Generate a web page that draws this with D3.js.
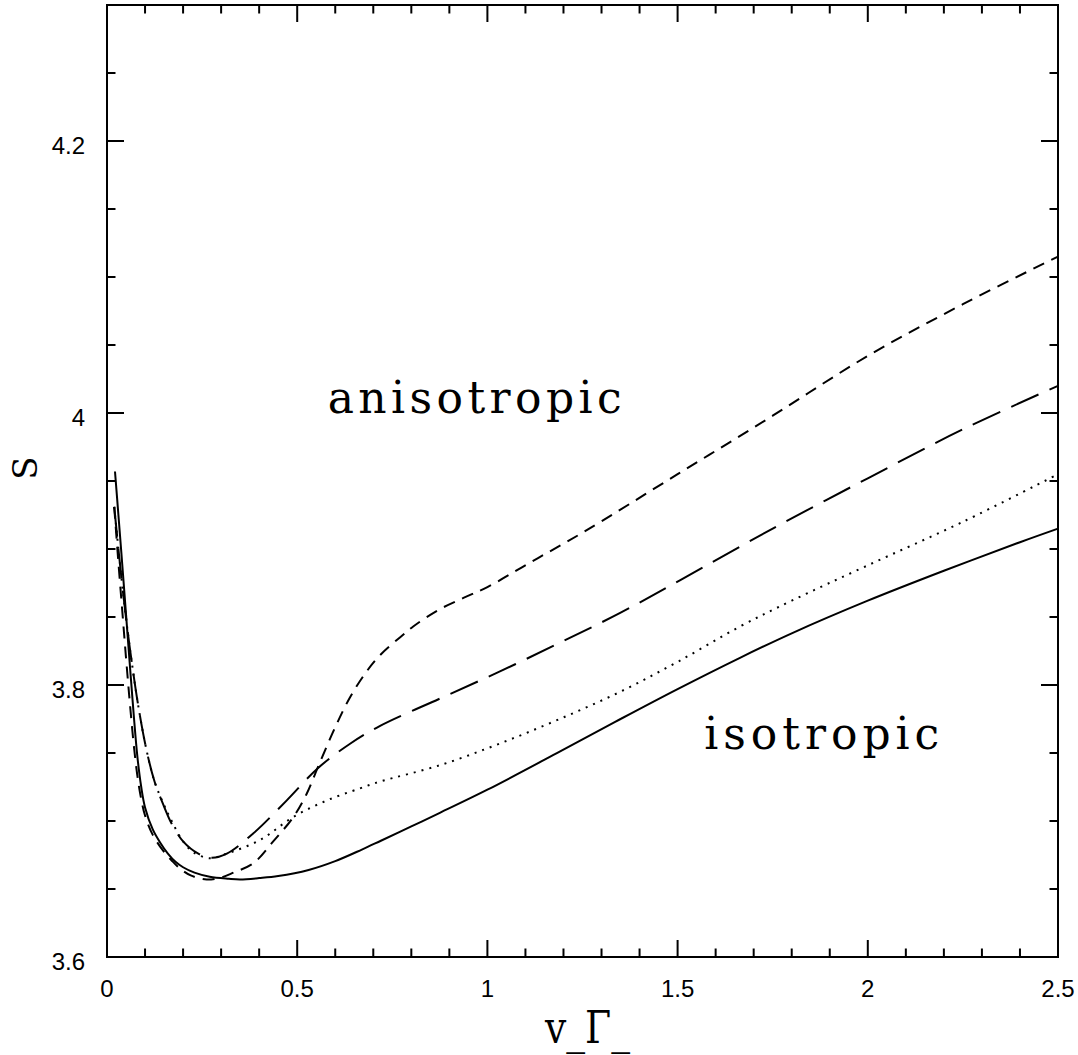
<!DOCTYPE html>
<html>
<head>
<meta charset="utf-8">
<script src="https://cdn.jsdelivr.net/npm/d3@7"></script>
<style>
  html, body { margin: 0; padding: 0; background: #fff; }
  svg { display: block; }
  .tick-label { font-family: "Liberation Sans", Arial, sans-serif; font-size: 24px; fill: #000; }
  .serif { font-family: "DejaVu Serif", serif; fill: #000; }
</style>
</head>
<body>
<svg id="chart" width="1078" height="1055"></svg>
<script>
// S versus v_Γ for four model variants
const solidV  = [0.021,0.03,0.04,0.05,0.06,0.07,0.08,0.09,0.10,0.12,0.14,0.16,0.18,0.20,0.23,0.27,0.32,0.35,0.40,0.45,0.53,0.60,0.67,0.72,0.80,0.875,1.0,1.19,1.35,1.5,1.664,1.8,2.0,2.2,2.4,2.5];
const solidS  = [3.957,3.925,3.889,3.852,3.815,3.779,3.747,3.725,3.71,3.694,3.684,3.676,3.670,3.666,3.662,3.659,3.6575,3.657,3.658,3.6595,3.664,3.6705,3.679,3.6855,3.696,3.706,3.723,3.751,3.775,3.797,3.82,3.838,3.862,3.884,3.905,3.915];

const dottedV = [0.019,0.03,0.043,0.055,0.065,0.082,0.104,0.125,0.148,0.17,0.2,0.227,0.271,0.315,0.402,0.49,0.577,0.665,0.718,0.875,1.033,1.19,1.349,1.5,1.664,1.8,2.0,2.25,2.5];
const dottedS = [3.931,3.90,3.866,3.838,3.817,3.785,3.752,3.729,3.713,3.70,3.685,3.677,3.6726,3.676,3.686,3.703,3.715,3.724,3.729,3.741,3.757,3.775,3.795,3.817,3.843,3.862,3.888,3.92,3.955];

const longDashV = [0.019,0.03,0.043,0.055,0.065,0.082,0.104,0.125,0.148,0.17,0.2,0.24,0.275,0.315,0.385,0.472,0.555,0.64,0.718,0.875,1.033,1.19,1.349,1.506,1.75,2.0,2.25,2.5];
const longDashS = [3.931,3.90,3.866,3.838,3.817,3.785,3.752,3.729,3.712,3.698,3.685,3.676,3.673,3.676,3.691,3.715,3.739,3.757,3.770,3.790,3.81,3.831,3.853,3.877,3.915,3.952,3.988,4.02];

const shortDashV = [0.019,0.03,0.04,0.05,0.06,0.07,0.08,0.09,0.10,0.12,0.148,0.17,0.192,0.22,0.262,0.30,0.332,0.385,0.437,0.49,0.525,0.555,0.60,0.639,0.68,0.718,0.77,0.805,0.87,0.937,1.0,1.112,1.25,1.5,1.75,2.0,2.25,2.5];
const shortDashS = [3.931,3.89,3.855,3.82,3.787,3.757,3.733,3.716,3.704,3.69,3.678,3.671,3.665,3.66,3.657,3.6585,3.662,3.669,3.685,3.703,3.72,3.740,3.769,3.791,3.809,3.822,3.835,3.843,3.855,3.864,3.872,3.89,3.912,3.955,3.998,4.042,4.08,4.115];

const xMajorTicks = [0, 0.5, 1, 1.5, 2, 2.5];
const xTickLabels = ["0", "0.5", "1", "1.5", "2", "2.5"];
const yMajorTicks = [3.6, 3.8, 4.0, 4.2];
const yTickLabels = ["3.6", "3.8", "4", "4.2"];
const xMinorStep = 0.1;
const yMinorStep = 0.05;

const xDomain = [0, 2.5];
const yDomain = [3.6, 4.3];

const xTitle = "v_\u0393_";
const yTitle = "S";
const regionLabels = [
  { text: "anisotropic", v: 0.58, s: 4.0 },
  { text: "isotropic", v: 1.57, s: 3.753 }
];

const series = [
  { v: solidV, s: solidS, dash: null },
  { v: dottedV, s: dottedS, dash: "2,6" },
  { v: longDashV, s: longDashS, dash: "30,12" },
  { v: shortDashV, s: shortDashS, dash: "12,8" }
];

const svg = d3.select("#chart");
const plot = { left: 107, top: 5, right: 1058, bottom: 957 };

const x = d3.scaleLinear().domain(xDomain).range([plot.left, plot.right]);
const y = d3.scaleLinear().domain(yDomain).range([plot.bottom, plot.top]);

const majorLen = 17, minorLen = 8.5;

// frame
svg.append("rect")
  .attr("x", plot.left).attr("y", plot.top)
  .attr("width", plot.right - plot.left).attr("height", plot.bottom - plot.top)
  .attr("fill", "none").attr("stroke", "#000").attr("stroke-width", 2);

const tickG = svg.append("g").attr("stroke", "#000").attr("stroke-width", 2);

const nearMajor = (val, majors) => majors.some(m => Math.abs(m - val) < 1e-6);

// x ticks on bottom and top, pointing inward
const xMinor = d3.range(xDomain[0], xDomain[1] + 1e-9, xMinorStep);
xMinor.forEach(v => {
  const len = nearMajor(v, xMajorTicks) ? majorLen : minorLen;
  tickG.append("line").attr("x1", x(v)).attr("x2", x(v)).attr("y1", plot.bottom).attr("y2", plot.bottom - len);
  tickG.append("line").attr("x1", x(v)).attr("x2", x(v)).attr("y1", plot.top).attr("y2", plot.top + len);
});

// y ticks on left and right, pointing inward
const yMinor = d3.range(yDomain[0], yDomain[1] + 1e-9, yMinorStep);
yMinor.forEach(s => {
  const len = nearMajor(s, yMajorTicks) ? majorLen : minorLen;
  tickG.append("line").attr("x1", plot.left).attr("x2", plot.left + len).attr("y1", y(s)).attr("y2", y(s));
  tickG.append("line").attr("x1", plot.right).attr("x2", plot.right - len).attr("y1", y(s)).attr("y2", y(s));
});

// tick labels
svg.append("g").selectAll("text").data(xMajorTicks).join("text")
  .attr("class", "tick-label")
  .attr("x", d => x(d)).attr("y", plot.bottom + 40)
  .attr("text-anchor", "middle")
  .text((d, i) => xTickLabels[i]);

svg.append("g").selectAll("text").data(yMajorTicks).join("text")
  .attr("class", "tick-label")
  .attr("x", plot.left - 22).attr("y", d => y(d) + 13)
  .attr("text-anchor", "end")
  .text((d, i) => yTickLabels[i]);

// curves
const line = d3.line()
  .x(d => x(d[0])).y(d => y(d[1]))
  .curve(d3.curveCatmullRom.alpha(0.5));

series.forEach(sr => {
  const pts = sr.v.map((v, i) => [v, sr.s[i]]);
  svg.append("path")
    .datum(pts)
    .attr("d", line)
    .attr("fill", "none")
    .attr("stroke", "#000")
    .attr("stroke-width", 2)
    .attr("stroke-dasharray", sr.dash);
});

// region labels
svg.append("g").selectAll("text").data(regionLabels).join("text")
  .attr("class", "serif")
  .attr("font-size", 44)
  .attr("x", d => x(d.v)).attr("y", d => y(d.s))
  .attr("textLength", d => d.text === "anisotropic" ? 294 : 235)
  .attr("lengthAdjust", "spacing")
  .text(d => d.text);

// axis titles
svg.append("text")
  .attr("class", "serif")
  .attr("font-size", 44)
  .attr("x", 545).attr("y", 1043)
  .attr("textLength", 85)
  .attr("lengthAdjust", "spacingAndGlyphs")
  .text(xTitle);

svg.append("text")
  .attr("class", "serif")
  .attr("font-size", 34)
  .attr("transform", "translate(37,468) rotate(-90)")
  .attr("text-anchor", "middle")
  .text(yTitle);
</script>
</body>
</html>
